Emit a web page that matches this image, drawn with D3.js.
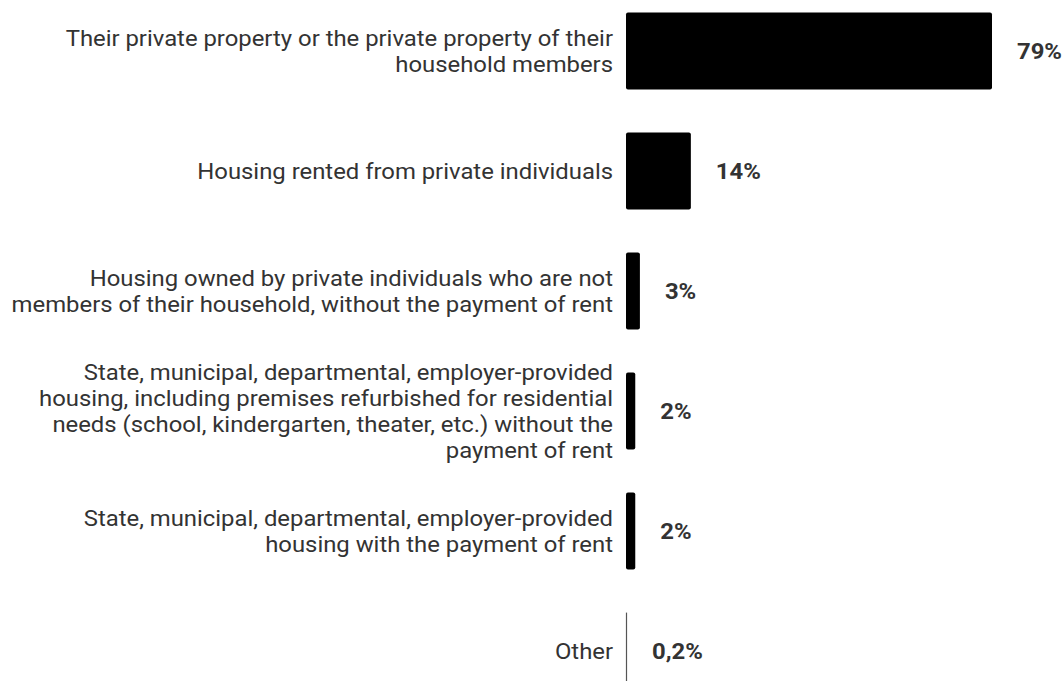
<!DOCTYPE html>
<html>
<head>
<meta charset="utf-8">
<script src="https://cdn.jsdelivr.net/npm/d3@7"></script>
<style>
  html, body { margin: 0; padding: 0; background: #fff; }
  svg { display: block; }
  text { font-family: Roboto, "Noto Sans", sans-serif; }
</style>
</head>
<body>
<svg id="chart" width="1064" height="681"></svg>
<script>
const categories = [
  ["Their private property or the private property of their", "household members"],
  ["Housing rented from private individuals"],
  ["Housing owned by private individuals who are not", "members of their household, without the payment of rent"],
  ["State, municipal, departmental, employer-provided", "housing, including premises refurbished for residential", "needs (school, kindergarten, theater, etc.) without the", "payment of rent"],
  ["State, municipal, departmental, employer-provided", "housing with the payment of rent"],
  ["Other"]
];
const values = [79, 14, 3, 2, 2, 0.2];
const valueLabels = ["79%", "14%", "3%", "2%", "2%", "0,2%"];

const svg = d3.select("#chart");
const x0 = 626;
const x = d3.scaleLinear().domain([0, 79]).range([x0, 992]);
const y = d3.scaleBand().domain(d3.range(values.length)).range([-9, 711]).paddingInner(0.36).paddingOuter(0.18);
const stretch = 1.085;

const g = svg.append("g");

values.forEach((v, i) => {
  const top = y(i), h = y.bandwidth(), cy = top + h / 2;
  if (i === values.length - 1) {
    g.append("line")
      .attr("x1", x0 + 0.5).attr("x2", x0 + 0.5)
      .attr("y1", top).attr("y2", top + h)
      .attr("stroke", "#555").attr("stroke-width", 1.2);
  } else {
    g.append("rect")
      .attr("x", x0).attr("y", top)
      .attr("width", Math.max(x(v) - x0, 1)).attr("height", h)
      .attr("rx", 2).attr("ry", 2)
      .attr("fill", "#000");
  }
  const barEnd = i === values.length - 1 ? x0 + 1 : x(v);
  g.append("text")
    .attr("transform", `translate(${barEnd + 25},${cy}) scale(${stretch},1)`)
    .attr("dy", "0.35em")
    .attr("font-size", 22).attr("font-weight", "bold")
    .attr("fill", "#333")
    .text(valueLabels[i]);

  const lines = categories[i];
  const lh = 26;
  const t = g.append("text")
    .attr("transform", `translate(613,${cy}) scale(${stretch},1)`)
    .attr("text-anchor", "end")
    .attr("font-size", 22)
    .attr("fill", "#333");
  lines.forEach((ln, k) => {
    t.append("tspan")
      .attr("x", 0)
      .attr("y", (k - (lines.length - 1) / 2) * lh)
      .attr("dy", "0.35em")
      .text(ln);
  });
});
</script>
</body>
</html>
